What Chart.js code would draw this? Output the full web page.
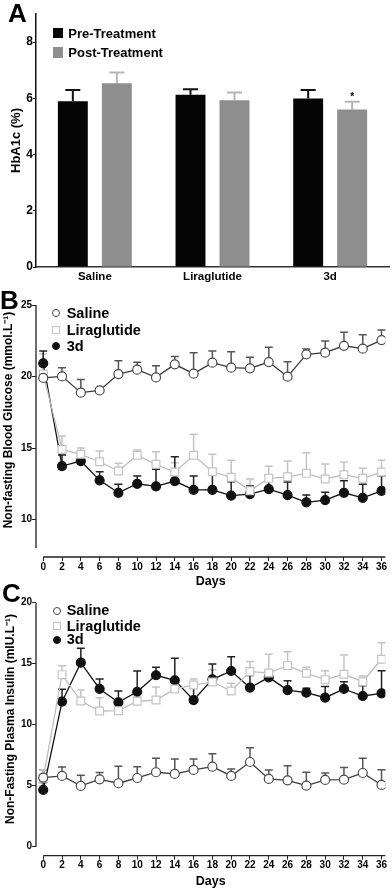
<!DOCTYPE html>
<html>
<head>
<meta charset="utf-8">
<script src="https://cdn.jsdelivr.net/npm/chart.js@4.4.1/dist/chart.umd.min.js"></script>
<style>
  body { margin: 0; background: #fff; }
  #page { position: relative; width: 392px; height: 891px; overflow: hidden;
          font-family: 'Liberation Sans', Arial, sans-serif; font-weight: bold; color: #000; }
  canvas { position: absolute; left: 0; }
  .panel { position: absolute; font-size: 26px; line-height: 26px; }
  .row { position: absolute; left: 0; white-space: nowrap; }
  .row .mark { position: absolute; box-sizing: border-box; border: 1px solid transparent; }
  .row .mark.circle { border-radius: 50%; }
  .row .txt { position: absolute; }
</style>
</head>
<body>
<div id="page">
  <canvas id="chartA" width="392" height="290" style="top:0"></canvas>
  <canvas id="chartB" width="392" height="320" style="top:270px"></canvas>
  <canvas id="chartC" width="392" height="316" style="top:575px"></canvas>
  <div class="panel" style="left:8px;top:0">A</div>
  <div class="panel" style="left:0;top:287px">B</div>
  <div class="panel" style="left:2px;top:580px">C</div>
  <div id="legA"></div>
  <div id="legB"></div>
  <div id="legC"></div>
</div>
<script>
// panel A - HbA1c
const hbCategories = ['Saline', 'Liraglutide', '3d'];
const hbPre = [5.9, 6.13, 5.99];
const hbPreErr = [0.4, 0.19, 0.31];
const hbPost = [6.54, 5.93, 5.6];
const hbPostErr = [0.38, 0.28, 0.28];
const hbPostMarks = ['', '', '*'];
const hbTicks = [0, 2, 4, 6, 8];

// panels B and C share the day axis
const days = [0, 2, 4, 6, 8, 10, 12, 14, 16, 18, 20, 22, 24, 26, 28, 30, 32, 34, 36];

// panel B - blood glucose
const glucSaline = [19.9, 20.01, 18.87, 19.03, 20.17, 20.48, 19.94, 20.85, 20.2, 20.97, 20.62, 20.57, 21.01, 19.99, 21.55, 21.67, 22.15, 21.95, 22.55];
const glucSalineErr = [0.3, 0.61, 0.93, 0.15, 0.93, 0.52, 0.82, 0.55, 1.47, 0.81, 1.12, 0.77, 1.03, 1.05, 0.37, 0.81, 0.94, 0.97, 0.7];
const glucLira = [20.17, 14.9, 14.56, 14.04, 13.39, 14.49, 13.86, 13.32, 14.49, 13.34, 12.95, 12.02, 12.88, 12.99, 13.23, 12.83, 13.13, 12.88, 13.32];
const glucLiraErr = [1.4, 0.94, 0.44, 0.75, 0.54, 0.37, 0.88, 0.65, 1.47, 1.22, 1.19, 0.81, 0.84, 1.1, 1.44, 1.05, 0.89, 0.7, 0.82];
const gluc3d = [20.92, 13.74, 14.09, 12.74, 11.87, 12.5, 12.32, 12.69, 12.08, 12.08, 11.67, 11.78, 12.13, 11.71, 11.2, 11.36, 11.87, 11.52, 12.0];
const gluc3dErr = [0.86, 0.77, 0.3, 0.6, 0.59, 0.54, 1.19, 1.7, 0.96, 1.1, 0.97, 0.56, 0.93, 0.91, 0.51, 0.54, 0.84, 0.94, 1.06];
const glucTicks = [10, 15, 20, 25];

// panel C - plasma insulin
const insSaline = [5.66, 5.8, 4.98, 5.52, 5.2, 5.63, 6.1, 5.96, 6.29, 6.56, 5.8, 6.94, 5.55, 5.44, 5.0, 5.47, 5.49, 6.04, 5.06];
const insSalineErr = [0.65, 0.73, 0.87, 0.55, 1.4, 0.93, 1.14, 1.23, 0.9, 1.06, 0.57, 1.17, 0.74, 1.2, 1.1, 0.57, 0.99, 1.2, 1.24];
const insLira = [5.6, 14.1, 11.94, 11.12, 11.15, 11.92, 12.02, 12.93, 13.25, 13.5, 12.76, 14.35, 14.24, 14.84, 14.21, 13.69, 14.13, 13.52, 15.36];
const insLiraErr = [0.7, 0.74, 0.9, 1.09, 0.3, 0.35, 1.07, 0.5, 0.5, 1.0, 0.63, 0.82, 1.53, 1.14, 0.49, 0.74, 1.58, 0.47, 1.36];
const ins3d = [4.65, 11.89, 15.08, 12.93, 11.83, 12.7, 14.05, 13.64, 12.02, 13.72, 14.4, 13.03, 13.88, 12.84, 12.62, 12.21, 12.93, 12.35, 12.57];
const ins3dErr = [0.6, 1.01, 1.18, 0.82, 0.93, 1.7, 0.65, 1.8, 1.1, 1.26, 1.17, 1.0, 0.47, 0.77, 0.36, 0.91, 0.59, 0.85, 1.86];
const insTicks = [0, 5, 10, 15, 20];

Chart.defaults.font.family = "'Liberation Sans', Arial, sans-serif";
Chart.defaults.font.weight = 'bold';
Chart.defaults.color = '#000';

// upper error bars (mean + SEM) with a cap, plus optional significance marks
const errorBars = {
  id: 'errorBars',
  beforeDatasetsDraw(chart, args, opts) {
    const ctx = chart.ctx;
    const y = chart.scales.y;
    chart.data.datasets.forEach((ds, i) => {
      if (!ds.errors) return;
      const meta = chart.getDatasetMeta(i);
      ctx.save();
      ctx.strokeStyle = ds.errorColor;
      ctx.lineWidth = opts.width;
      meta.data.forEach((el, j) => {
        const d = ds.data[j];
        const v = typeof d === 'number' ? d : d.y;
        const top = y.getPixelForValue(v + ds.errors[j]);
        ctx.beginPath();
        ctx.moveTo(el.x, el.y);
        ctx.lineTo(el.x, top);
        ctx.moveTo(el.x - opts.cap / 2, top);
        ctx.lineTo(el.x + opts.cap / 2, top);
        ctx.stroke();
        if (ds.marks && ds.marks[j]) {
          ctx.fillStyle = '#000';
          ctx.font = "bold 10px 'Liberation Sans', Arial, sans-serif";
          ctx.textAlign = 'center';
          ctx.textBaseline = 'alphabetic';
          ctx.fillText(ds.marks[j], el.x, top - 1.5);
        }
      });
      ctx.restore();
    });
  }
};

// axis lines that stop short of each other, like the original figure
const axisLines = {
  id: 'axisLines',
  afterDraw(chart, args, opts) {
    const {ctx, chartArea, scales: {x, y}} = chart;
    ctx.save();
    ctx.strokeStyle = '#222';
    ctx.lineWidth = 1.3;
    ctx.beginPath();
    ctx.moveTo(chartArea.left, y.getPixelForValue(opts.yFrom));
    ctx.lineTo(chartArea.left, y.getPixelForValue(opts.yTo));
    ctx.moveTo(x.getPixelForValue(opts.xFrom), chartArea.bottom);
    ctx.lineTo(chartArea.right, chartArea.bottom);
    ctx.stroke();
    ctx.restore();
  }
};

const chartA = new Chart(document.getElementById('chartA'), {
  type: 'bar',
  data: {
    labels: hbCategories,
    datasets: [
      { label: 'Pre-Treatment', data: hbPre, errors: hbPreErr, errorColor: '#111',
        backgroundColor: '#050505', categoryPercentage: 0.748, barPercentage: 0.68 },
      { label: 'Post-Treatment', data: hbPost, errors: hbPostErr, errorColor: '#b5b5b5', marks: hbPostMarks,
        backgroundColor: '#8e8e8e', categoryPercentage: 0.748, barPercentage: 0.68 }
    ]
  },
  options: {
    responsive: false,
    animation: false,
    layout: { padding: { top: 14, right: 3, left: 0, bottom: 0 } },
    plugins: { legend: { display: false }, tooltip: { enabled: false }, errorBars: { cap: 15, width: 2 } },
    scales: {
      x: {
        grid: { display: false, drawTicks: false, tickLength: 0 },
        border: { display: true, color: '#333', width: 1.5 },
        ticks: { padding: 3, font: { size: 11.5 } },
        afterFit: s => { s.height = 23; }
      },
      y: {
        min: 0, max: 9,
        border: { color: '#111', width: 1.5 },
        grid: { drawOnChartArea: false, tickLength: 3, color: '#111' },
        ticks: { padding: 0, font: { size: 12 } },
        afterBuildTicks: s => { s.ticks = hbTicks.map(v => ({ value: v })); },
        title: { display: true, text: 'HbA1c (%)', font: { size: 13 }, padding: { top: 9, bottom: 0 } },
        afterFit: s => { s.width = 36; }
      }
    }
  },
  plugins: [errorBars]
});

function series(label, vals, errs, style, fill, edge, lineColor, radius, errColor) {
  return {
    label,
    data: days.map((d, i) => ({ x: d, y: vals[i] })),
    errors: errs,
    errorColor: errColor,
    borderColor: lineColor,
    borderWidth: 1.3,
    tension: 0,
    pointStyle: style,
    pointRadius: radius,
    pointBackgroundColor: fill,
    pointBorderColor: edge,
    pointBorderWidth: 1.2
  };
}

function lineOptions(o) {
  return {
    responsive: false,
    animation: false,
    layout: { padding: { top: o.padTop, right: 6, left: 0, bottom: 0 } },
    plugins: {
      legend: { display: false },
      tooltip: { enabled: false },
      errorBars: { cap: 8, width: 1.5 },
      axisLines: { yFrom: o.yFrom, yTo: o.yTo, xFrom: 0 }
    },
    scales: {
      x: {
        type: 'linear', min: -0.77, max: 36.4,
        border: { display: false },
        grid: { drawOnChartArea: false, tickLength: 4, color: '#222' },
        ticks: { padding: 0, font: { size: 10 }, maxRotation: 0, autoSkip: false },
        afterBuildTicks: s => { s.ticks = days.map(v => ({ value: v })); },
        title: { display: true, text: 'Days', font: { size: 12.5 }, padding: { top: 0, bottom: o.daysPad } },
        afterFit: s => { s.height = o.xHeight; }
      },
      y: {
        min: o.yMin, max: o.yMax,
        border: { display: false },
        grid: { drawOnChartArea: false, tickLength: 4, color: '#222' },
        ticks: { padding: 0, font: { size: 10 } },
        afterBuildTicks: s => { s.ticks = o.yTicks.map(v => ({ value: v })); },
        title: { display: true, text: o.yTitle, font: { size: 12 }, padding: { top: o.titlePad, bottom: 0 } },
        afterFit: s => { s.width = 36; }
      }
    }
  };
}

const chartB = new Chart(document.getElementById('chartB'), {
  type: 'line',
  data: { datasets: [
    series('Saline', glucSaline, glucSalineErr, 'circle', '#fff', '#4a4a4a', '#3a3a3a', 4.5, '#555'),
    series('Liraglutide', glucLira, glucLiraErr, 'rect', '#fff', '#c4c4c4', '#bdbdbd', 5.5, '#c4c4c4'),
    series('3d', gluc3d, gluc3dErr, 'circle', '#111', '#111', '#111', 4.5, '#222')
  ]},
  options: lineOptions({
    padTop: 13, xHeight: 33, daysPad: 0.5, yMin: 7.38, yMax: 26.54, yFrom: 8, yTo: 25,
    yTicks: glucTicks, yTitle: 'Non-fasting Blood Glucose (mmol.L\u207B\u00B9)', titlePad: 1
  }),
  plugins: [errorBars, axisLines]
});

const chartC = new Chart(document.getElementById('chartC'), {
  type: 'line',
  data: { datasets: [
    series('Saline', insSaline, insSalineErr, 'circle', '#fff', '#4a4a4a', '#3a3a3a', 4.5, '#555'),
    series('Liraglutide', insLira, insLiraErr, 'rect', '#fff', '#c4c4c4', '#bdbdbd', 5.5, '#c4c4c4'),
    series('3d', ins3d, ins3dErr, 'circle', '#111', '#111', '#111', 4.5, '#222')
  ]},
  options: lineOptions({
    padTop: 7.3, xHeight: 35.3, daysPad: 1.8, yMin: -0.74, yMax: 21.67, yFrom: 0, yTo: 20,
    yTicks: insTicks, yTitle: 'Non-Fasting Plasma Insulin (mIU.L\u207B\u00B9)', titlePad: 3
  }),
  plugins: [errorBars, axisLines]
});

// html legends built from the chart datasets
function buildLegend(id, chart, o) {
  const box = document.getElementById(id);
  chart.data.datasets.forEach((ds, i) => {
    const row = document.createElement('div');
    row.className = 'row';
    row.style.top = (o.rows[i] - o.fs / 2) + 'px';
    row.style.height = o.fs + 'px';
    row.style.lineHeight = o.fs + 'px';
    row.style.fontSize = o.fs + 'px';
    const m = document.createElement('span');
    m.className = 'mark ' + (ds.pointStyle || 'box');
    m.style.left = (o.markX - o.mw / 2) + 'px';
    m.style.top = ((o.fs - o.mh) / 2) + 'px';
    m.style.width = o.mw + 'px';
    m.style.height = o.mh + 'px';
    m.style.background = ds.pointBackgroundColor || ds.backgroundColor;
    m.style.borderColor = ds.pointBorderColor || ds.backgroundColor;
    const t = document.createElement('span');
    t.className = 'txt';
    t.style.left = o.textX + 'px';
    t.textContent = ds.label;
    row.append(m, t);
    box.append(row);
  });
}

buildLegend('legA', chartA, { rows: [33, 52.5], fs: 13, markX: 58.3, textX: 68.3, mw: 10, mh: 10.5 });
buildLegend('legB', chartB, { rows: [313.3, 330, 346], fs: 14.5, markX: 56, textX: 66.7, mw: 8, mh: 8 });
buildLegend('legC', chartC, { rows: [610.6, 625.8, 639.6], fs: 14.5, markX: 57, textX: 66.7, mw: 8, mh: 8 });
</script>
</body>
</html>
